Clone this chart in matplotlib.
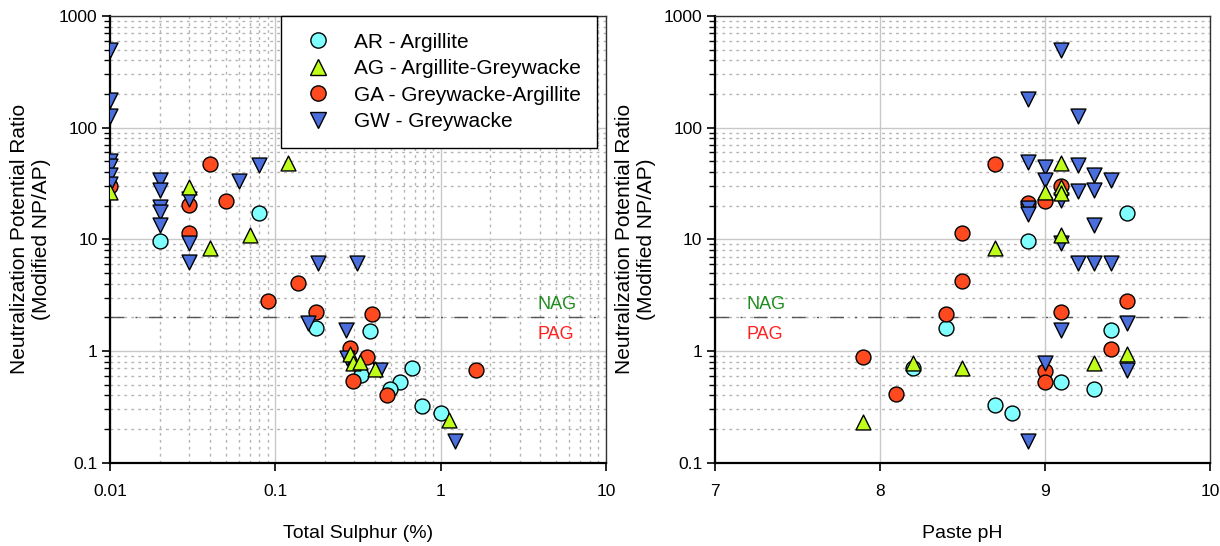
import matplotlib
matplotlib.use("Agg")
import matplotlib.pyplot as plt
from matplotlib.ticker import LogLocator, FuncFormatter, FixedLocator, NullFormatter
from matplotlib.lines import Line2D

plt.rcParams['font.family'] = ['Liberation Sans', 'DejaVu Sans']

# ---------------- data: left panel (Total Sulphur %) ----------------
ar_s = [0.02, 0.08, 0.177, 0.376, 0.33, 0.67, 0.57, 0.497, 0.77, 1.0]
ar_s_r = [9.7, 17.1, 1.62, 1.52, 0.61, 0.70, 0.53, 0.455, 0.325, 0.277]

ag_s = [0.01, 0.03, 0.04, 0.07, 0.119, 0.284, 0.297, 0.325, 0.40, 1.13]
ag_s_r = [26.7, 29.6, 8.3, 11.0, 48, 0.95, 0.78, 0.80, 0.69, 0.24]

ga_s = [0.01, 0.03, 0.03, 0.04, 0.05, 0.09, 0.137, 0.177, 0.386, 0.284, 0.356, 0.297, 0.474, 1.63]
ga_s_r = [30, 20.3, 11.3, 47, 22, 2.82, 4.1, 2.25, 2.15, 1.06, 0.89, 0.54, 0.405, 0.68]

gw_s = [0.01, 0.01, 0.01, 0.01, 0.01, 0.01, 0.01, 0.02, 0.02, 0.02, 0.02, 0.02,
        0.03, 0.03, 0.03, 0.06, 0.08, 0.18, 0.31, 0.158, 0.269, 0.27, 0.43, 1.22]
gw_s_r = [500, 177, 127, 50, 45, 38, 31, 34, 27.7, 19.5, 17.7, 13.5,
          23.1, 9.2, 6.3, 33, 46, 6.1, 6.1, 1.8, 1.55, 0.86, 0.68, 0.157]

# ---------------- data: right panel (Paste pH) ----------------
ar_ph = [8.9, 9.5, 8.4, 9.4, 8.2, 9.1, 9.3, 8.7, 8.8]
ar_ph_r = [9.7, 17.1, 1.62, 1.55, 0.70, 0.53, 0.455, 0.33, 0.28]

ag_ph = [7.9, 8.2, 8.5, 8.7, 9.0, 9.1, 9.1, 9.1, 9.1, 9.3, 9.5]
ag_ph_r = [0.233, 0.78, 0.70, 8.3, 26.7, 48, 29.6, 26.0, 11, 0.78, 0.95]

ga_ph = [7.9, 8.1, 8.4, 8.5, 8.5, 8.7, 8.9, 9.0, 9.0, 9.0, 9.1, 9.1, 9.4, 9.5]
ga_ph_r = [0.89, 0.41, 2.15, 11.4, 4.2, 47, 21.3, 22, 0.66, 0.53, 30, 2.25, 1.05, 2.82]

gw_ph = [9.1, 8.9, 9.2, 8.9, 9.0, 9.2, 9.3, 9.4, 9.0, 9.1, 9.2, 9.3,
         8.9, 8.9, 9.3, 9.1, 9.2, 9.3, 9.4, 9.1, 9.5, 9.0, 9.5, 8.9]
gw_ph_r = [496, 180, 127, 49.7, 44.6, 46, 37.7, 34, 34, 22.7, 27, 27.7,
           19, 17, 13.5, 9.2, 6.2, 6.2, 6.2, 1.55, 1.8, 0.78, 0.68, 0.157]

labels = ["AR - Argillite", "AG - Argillite-Greywacke",
          "GA - Greywacke-Argillite", "GW - Greywacke"]
nag_line = 2.0

# styles
C_AR, C_AG, C_GA, C_GW = "#7FFFFF", "#BFFF1A", "#FF4A1F", "#4A6FDC"
MS = 115

fig = plt.figure(figsize=(12.2, 5.46), dpi=100)
axL = fig.add_axes([110 / 1220, 1 - 462.7 / 546, 496 / 1220, 446.7 / 546])
axR = fig.add_axes([714.7 / 1220, 1 - 462.7 / 546, 495.3 / 1220, 446.7 / 546])

fmt = FuncFormatter(lambda v, p: "%g" % v)


def style_axes(ax, logx):
    ax.set_yscale("log")
    ax.set_ylim(0.1, 1000)
    ax.yaxis.set_major_locator(LogLocator(base=10, numticks=10))
    ax.yaxis.set_minor_locator(LogLocator(base=10, subs=range(2, 10), numticks=20))
    ax.yaxis.set_major_formatter(fmt)
    ax.yaxis.set_minor_formatter(NullFormatter())
    ax.grid(which="major", axis="both", color="#C8C8C8", lw=1.0, ls="-", zorder=0)
    ax.grid(which="minor", axis="y", color="#B5B5B5", lw=1.0, ls=(0, (2, 3)), zorder=0)
    if logx:
        ax.grid(which="minor", axis="x", color="#B5B5B5", lw=1.0, ls=(0, (2, 3)), zorder=0)
    ax.set_axisbelow(True)
    ax.tick_params(axis="x", which="major", direction="out", length=6, width=1.2,
                   labelsize=12.5, pad=9)
    ax.tick_params(axis="y", which="major", direction="out", length=6, width=1.2,
                   labelsize=12.5, pad=3)
    ax.tick_params(axis="y", which="minor", direction="out", length=4, width=1.0)
    ax.tick_params(axis="x", which="minor", length=0)
    for s in ("left", "bottom"):
        ax.spines[s].set_linewidth(1.6)
        ax.spines[s].set_color("black")
    for s in ("top", "right"):
        ax.spines[s].set_linewidth(1.0)
        ax.spines[s].set_color("#333333")
    ax.axhline(nag_line, color="#555555", lw=1.0, ls=(0, (10, 8, 1.5, 8)), zorder=1)
    ax.set_ylabel("Neutralization Potential Ratio\n(Modified NP/AP)", fontsize=15)
    ax.yaxis.set_label_coords(-0.118, 0.5)


# ---------------- left panel ----------------
style_axes(axL, True)
axL.set_xscale("log")
axL.set_xlim(0.01, 10)
axL.xaxis.set_major_locator(LogLocator(base=10, numticks=10))
axL.xaxis.set_minor_locator(LogLocator(base=10, subs=range(2, 10), numticks=20))
axL.xaxis.set_major_formatter(fmt)
axL.xaxis.set_minor_formatter(NullFormatter())
axL.set_xlabel("Total Sulphur (%)", fontsize=14, labelpad=19)

axL.scatter(ar_s, ar_s_r, s=MS, marker="o", c=C_AR, edgecolors="black", linewidths=1, zorder=3)
axL.scatter(ga_s, ga_s_r, s=MS, marker="o", c=C_GA, edgecolors="black", linewidths=1, zorder=4)
axL.scatter(gw_s, gw_s_r, s=MS, marker="v", c=C_GW, edgecolors="black", linewidths=1, zorder=5)
axL.scatter(ag_s, ag_s_r, s=MS, marker="^", c=C_AG, edgecolors="black", linewidths=1, zorder=6)

axL.text(0.861, 0.355, "NAG", transform=axL.transAxes, color="#1E8C1E", fontsize=13,
         ha="left", va="center")
axL.text(0.861, 0.288, "PAG", transform=axL.transAxes, color="#FF2020", fontsize=13,
         ha="left", va="center")

handles = [
    Line2D([], [], ls="none", marker="o", ms=11, mfc=C_AR, mec="black", mew=1),
    Line2D([], [], ls="none", marker="^", ms=11, mfc=C_AG, mec="black", mew=1),
    Line2D([], [], ls="none", marker="o", ms=11, mfc=C_GA, mec="black", mew=1),
    Line2D([], [], ls="none", marker="v", ms=11, mfc=C_GW, mec="black", mew=1),
]
leg = axL.legend(handles, labels, loc="upper right", bbox_to_anchor=(0.982, 1.0),
                 fontsize=15, frameon=True, fancybox=False, framealpha=1,
                 edgecolor="black", borderpad=0.8, labelspacing=0.36,
                 handletextpad=0.7, borderaxespad=0, handlelength=2.0)
leg.get_frame().set_linewidth(1.0)
leg.set_zorder(10)

# ---------------- right panel ----------------
style_axes(axR, False)
axR.set_xlim(7, 10)
axR.xaxis.set_major_locator(FixedLocator([7, 8, 9, 10]))
axR.xaxis.set_major_formatter(fmt)
axR.set_xlabel("Paste pH", fontsize=14, labelpad=19)

axR.scatter(ar_ph, ar_ph_r, s=MS, marker="o", c=C_AR, edgecolors="black", linewidths=1, zorder=3)
axR.scatter(ga_ph, ga_ph_r, s=MS, marker="o", c=C_GA, edgecolors="black", linewidths=1, zorder=4)
axR.scatter(gw_ph, gw_ph_r, s=MS, marker="v", c=C_GW, edgecolors="black", linewidths=1, zorder=5)
axR.scatter(ag_ph, ag_ph_r, s=MS, marker="^", c=C_AG, edgecolors="black", linewidths=1, zorder=6)

axR.text(0.065, 0.355, "NAG", transform=axR.transAxes, color="#1E8C1E", fontsize=13,
         ha="left", va="center")
axR.text(0.065, 0.288, "PAG", transform=axR.transAxes, color="#FF2020", fontsize=13,
         ha="left", va="center")

fig.savefig("out.png", dpi=100)
